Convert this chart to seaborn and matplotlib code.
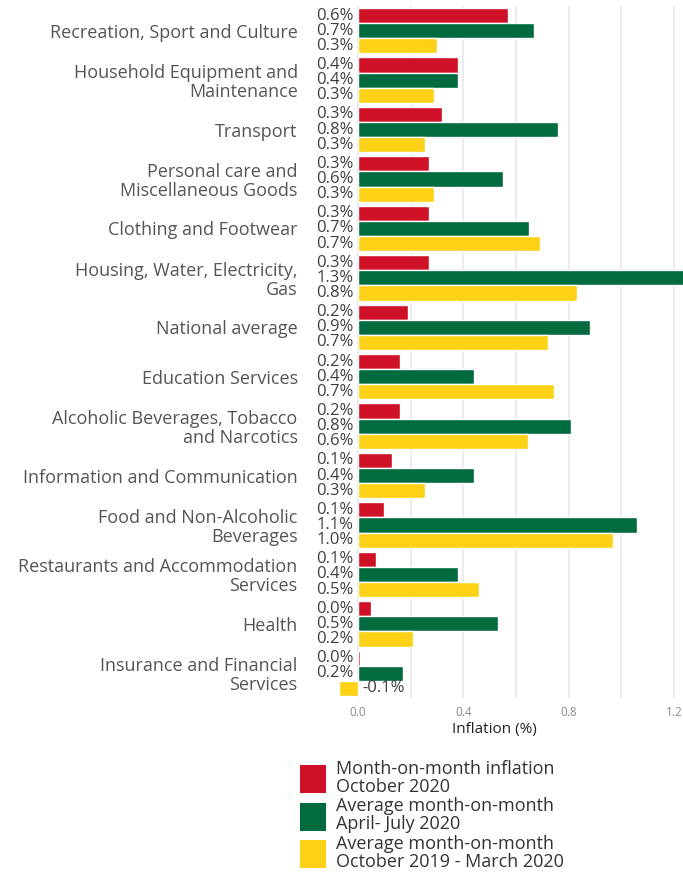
import matplotlib
matplotlib.use("Agg")
import matplotlib.pyplot as plt
import matplotlib.ticker as ticker
from matplotlib.patches import Patch
import seaborn as sns
import pandas as pd

categories = [
    "Recreation, Sport and Culture",
    "Household Equipment and\nMaintenance",
    "Transport",
    "Personal care and\nMiscellaneous Goods",
    "Clothing and Footwear",
    "Housing, Water, Electricity,\nGas",
    "National average",
    "Education Services",
    "Alcoholic Beverages, Tobacco\nand Narcotics",
    "Information and Communication",
    "Food and Non-Alcoholic\nBeverages",
    "Restaurants and Accommodation\nServices",
    "Health",
    "Insurance and Financial\nServices",
]

series_names = [
    "Month-on-month inflation\nOctober 2020",
    "Average month-on-month\nApril- July 2020",
    "Average month-on-month\nOctober 2019 - March 2020",
]

oct_2020 = [0.57, 0.38, 0.32, 0.27, 0.27, 0.27, 0.19, 0.16, 0.16, 0.13, 0.10, 0.07, 0.048, 0.008]
apr_jul_2020 = [0.67, 0.38, 0.76, 0.55, 0.65, 1.26, 0.88, 0.44, 0.81, 0.44, 1.06, 0.38, 0.53, 0.17]
oct19_mar20 = [0.30, 0.29, 0.254, 0.29, 0.69, 0.83, 0.72, 0.745, 0.645, 0.254, 0.97, 0.46, 0.21, -0.07]

colors = ["#CE1126", "#006B3F", "#FCD116"]

rows = []
for name, vals in zip(series_names, [oct_2020, apr_jul_2020, oct19_mar20]):
    for cat, v in zip(categories, vals):
        rows.append({"Category": cat, "Series": name, "Inflation": v})
df = pd.DataFrame(rows)

sns.set_theme(style="white")
plt.rcParams['font.family'] = ['Open Sans', 'DejaVu Sans']

fig = plt.figure(figsize=(6.83, 8.72), dpi=100)
ax = fig.add_axes([306 / 683, 1 - 698 / 872, 1 - 306 / 683, (698 - 6) / 872])

sns.barplot(data=df, y="Category", x="Inflation", hue="Series", order=categories,
            hue_order=series_names, palette=colors, orient="h", width=0.92,
            saturation=1, legend=False, ax=ax)

# value labels next to zero
for cont in ax.containers:
    for bar in cont:
        v = bar.get_width() if bar.get_x() >= 0 else bar.get_x()
        yc = bar.get_y() + bar.get_height() / 2
        if v >= 0:
            ax.annotate(f"{v:.1f}%", (0, yc), xytext=(-3, 0), textcoords="offset points",
                        ha="right", va="center", fontsize=12, color="#404040")
        else:
            ax.annotate(f"{v:.1f}%", (0, yc), xytext=(3, 0), textcoords="offset points",
                        ha="left", va="center", fontsize=12, color="#404040")

ax.set_xlim(-0.197, 1.234)
ax.set_ylim(len(categories) - 0.5, -0.5)
ax.xaxis.set_major_locator(ticker.FixedLocator([0.0, 0.4, 0.8, 1.2]))
ax.xaxis.set_minor_locator(ticker.FixedLocator([-0.2, 0.2, 0.6, 1.0]))
ax.xaxis.set_major_formatter(ticker.FormatStrFormatter("%.1f"))
ax.grid(axis="x", which="both", color="#ebebeb", linewidth=1.3)
ax.set_axisbelow(True)
for s in ax.spines.values():
    s.set_visible(False)

ax.tick_params(axis="x", which="both", length=0, labelsize=8.5, labelcolor="#8a8a8a", pad=6)
ax.tick_params(axis="y", length=0, labelsize=13, labelcolor="#555555", pad=6)
for lab in ax.get_yticklabels():
    lab.set_linespacing(1.05)

ax.set_ylabel("")
ax.set_xlabel("Inflation (%)", fontsize=11, color="#222222", labelpad=2)

handles = [Patch(facecolor=c, edgecolor="none") for c in colors]
leg = fig.legend(handles, series_names, loc="upper left",
                 bbox_to_anchor=(300 / 683, 1 - 760 / 872), frameon=False,
                 fontsize=13, handlelength=1.44, handleheight=2.0, handletextpad=0.55,
                 labelspacing=0.08, borderpad=0, borderaxespad=0,
                 labelcolor="#333333")
for t in leg.get_texts():
    t.set_linespacing(1.0)

fig.savefig("out.png", dpi=100)
